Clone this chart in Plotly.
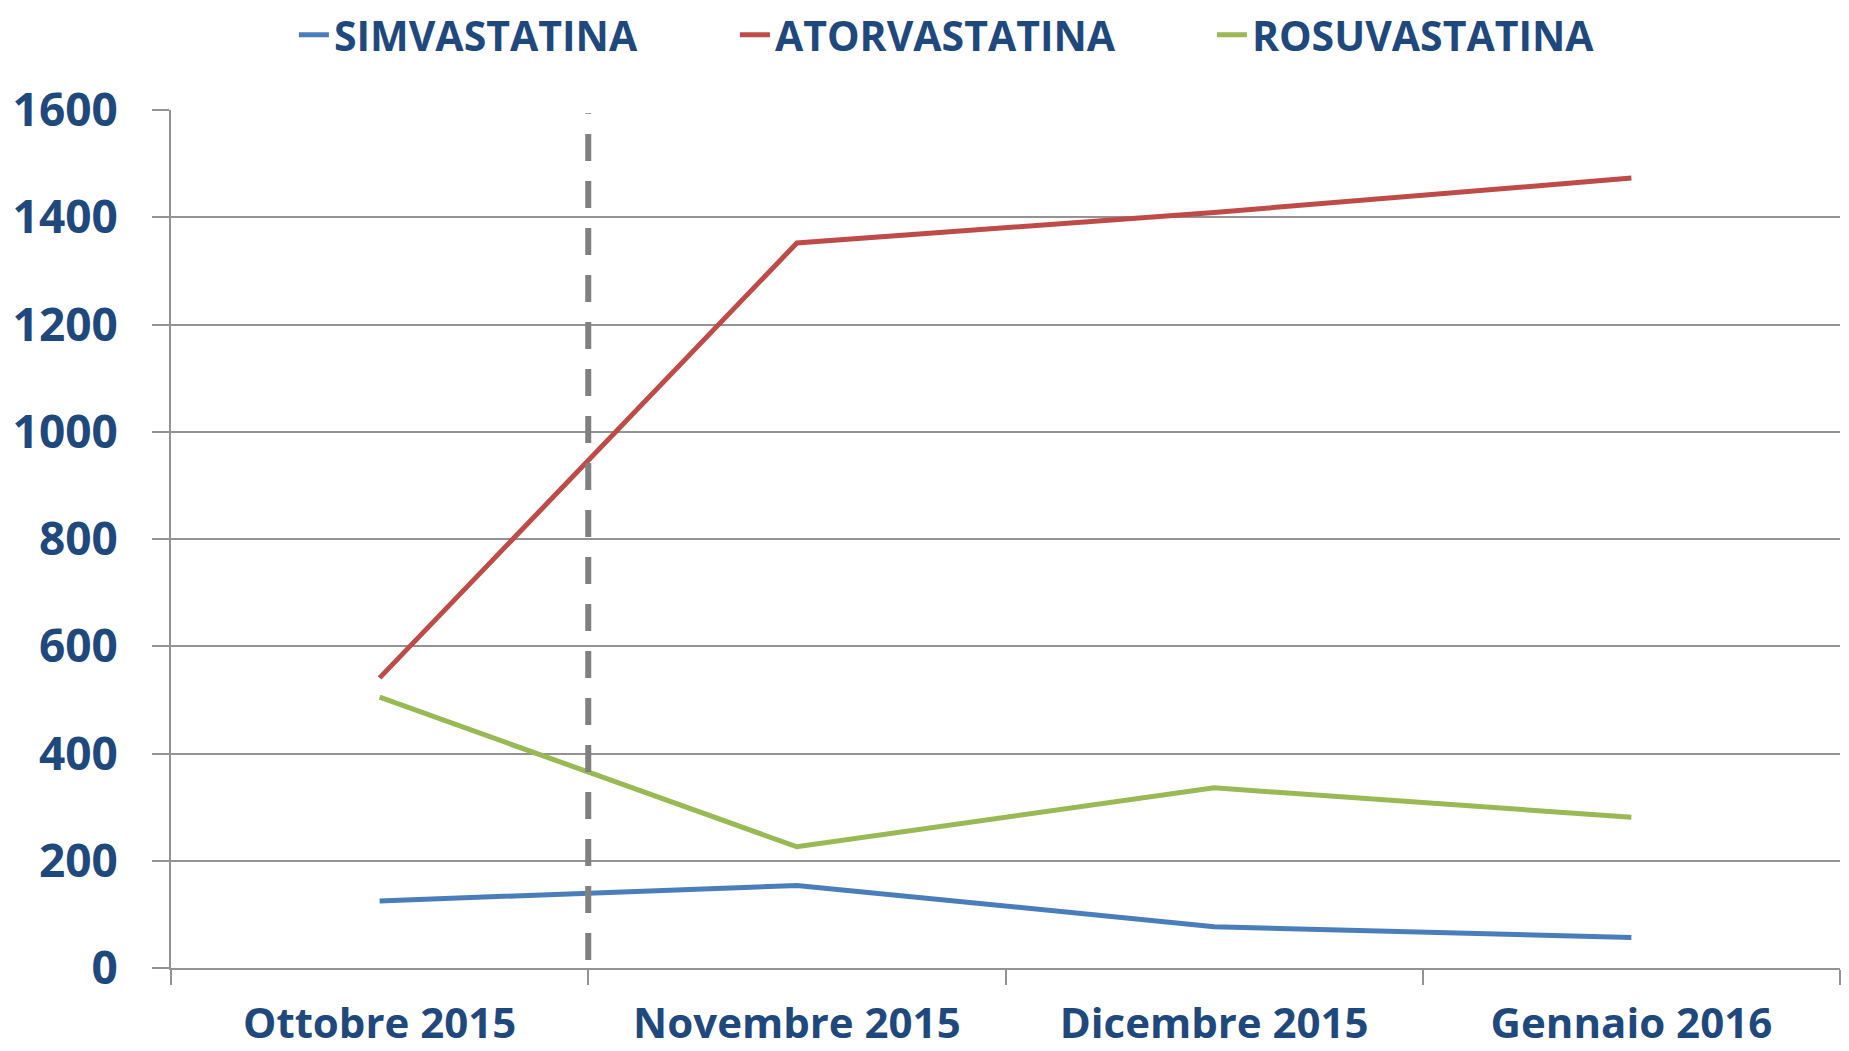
import plotly.graph_objects as go

months = ["Ottobre 2015", "Novembre 2015", "Dicembre 2015", "Gennaio 2016"]
simvastatina = [125, 154, 77, 57]
atorvastatina = [541, 1352, 1409, 1473]
rosuvastatina = [505, 226, 336, 281]

series_names = ["SIMVASTATINA", "ATORVASTATINA", "ROSUVASTATINA"]
series_values = [simvastatina, atorvastatina, rosuvastatina]
series_colors = ["#4A7EBB", "#BE4B48", "#98B954"]
legend_widths = [396, 432, 420]

y_ticks = [0, 200, 400, 600, 800, 1000, 1200, 1400, 1600]
divider_between = (0, 1)  # dashed divider between first and second month

TEXT = "#1F497D"
FONT = "Open Sans"

fig = go.Figure()
for name, vals, col, lw in zip(series_names, series_values, series_colors, legend_widths):
    fig.add_trace(go.Scatter(
        x=months, y=vals, name=name, mode="lines",
        line=dict(color=col, width=5), legendwidth=lw,
    ))

div_x = (divider_between[0] + divider_between[1]) / 2
fig.add_shape(type="line", xref="x", yref="y", x0=div_x, x1=div_x, y0=15, y1=1594,
              line=dict(color="#808080", width=6, dash="27px,20px"), layer="above")

fig.update_layout(
    width=1841, height=1043,
    margin=dict(l=163, r=9, t=102, b=83, autoexpand=False),
    paper_bgcolor="white", plot_bgcolor="white",
    showlegend=True,
    legend=dict(orientation="h", x=0.1553, xanchor="left", xref="container",
                y=0.974, yanchor="middle", yref="container",
                font=dict(family=FONT, size=41, color=TEXT, weight=700),
                bgcolor="rgba(0,0,0,0)"),
    font=dict(family=FONT, color=TEXT),
)

fig.update_xaxes(
    type="category", categoryorder="array", categoryarray=months,
    range=[-0.5, len(months) - 0.5],
    tickson="boundaries", ticks="outside", ticklen=15, tickwidth=2, tickcolor="#939393",
    showline=True, linecolor="#939393", linewidth=2, showgrid=False, zeroline=False,
    automargin=False, ticklabelstandoff=18,
    tickfont=dict(family=FONT, size=42, color=TEXT, weight=700),
)
fig.update_yaxes(
    range=[0, 1600], tickmode="array", tickvals=y_ticks,
    ticks="outside", ticklen=17, tickwidth=2, tickcolor="#939393",
    showline=True, linecolor="#939393", linewidth=2,
    showgrid=True, gridcolor="#939393", gridwidth=2, zeroline=False,
    automargin=False, ticklabelstandoff=25,
    tickfont=dict(family=FONT, size=46, color=TEXT, weight=700),
)

fig.write_html("out.html")
